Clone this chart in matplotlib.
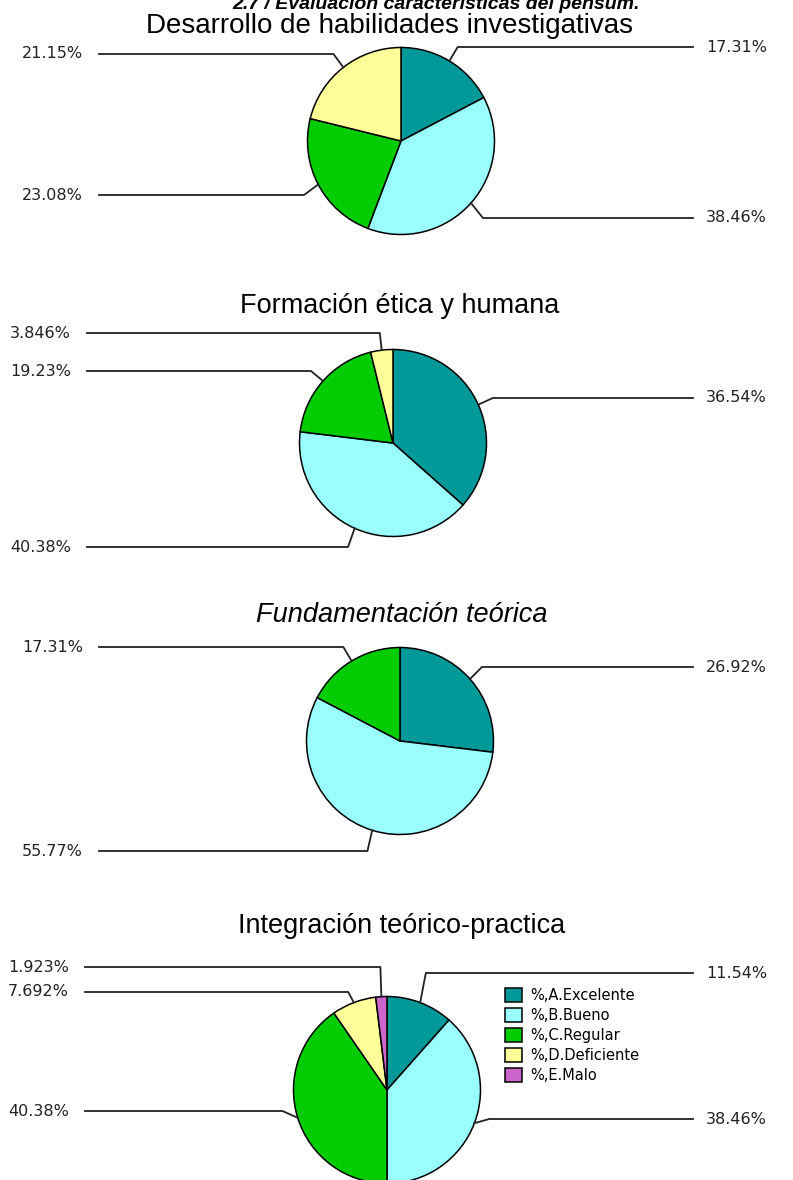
import matplotlib.pyplot as plt
import numpy as np

W, H = 793, 1180

categories = ['%,A.Excelente', '%,B.Bueno', '%,C.Regular', '%,D.Deficiente', '%,E.Malo']
colors = ['#009999', '#99FFFF', '#00CC00', '#FFFF99', '#CC66CC']

main_title = '2.7 / Evaluación características del pensum.'
titles = ['Desarrollo de habilidades investigativas',
          'Formación ética y humana',
          'Fundamentación teórica',
          'Integración teórico-practica']

desarrollo = [17.31, 38.46, 23.08, 21.15, 0]
etica = [36.54, 40.38, 19.23, 3.846, 0]
fundamentacion = [26.92, 55.77, 17.31, 0, 0]
integracion = [11.54, 38.46, 40.38, 7.692, 1.923]
series = [desarrollo, etica, fundamentacion, integracion]

# layout, in pixels (y grows downwards)
centers = [(401, 141), (393, 443), (400, 741), (387, 1090)]
radius = 93.5
title_x = [390, 400, 402, 402]
title_y = [33, 313, 622, 933]
title_style = ['normal', 'normal', 'italic', 'normal']
label_y = [
    [47, 218, 195, 54, None],
    [398, 547, 371, 333, None],
    [667, 851, 647, None, None],
    [973, 1119, 1111, 992, 967],
]
left_end = [83, 71, 83, 69]
right_end = 693
stub = 16

fig = plt.figure(figsize=(W / 100, H / 100), dpi=100)
ax = fig.add_axes([0, 0, 1, 1])

legend_wedges = None
for k, vals in enumerate(series):
    cx, cy = centers[k]
    idx = [i for i, v in enumerate(vals) if v > 0]
    # inverted y axis: start at -90 and go "counterclock" = clockwise on screen
    wedges, _ = ax.pie([vals[i] for i in idx], colors=[colors[i] for i in idx],
                       center=(cx, cy), radius=radius, startangle=-90, counterclock=True,
                       wedgeprops=dict(edgecolor='black', linewidth=1.1))
    if k == 3:
        legend_wedges = wedges

    total = sum(vals)
    cum = 0.0
    for i in idx:
        v = vals[i]
        th = np.deg2rad(360 * (cum + v / 2) / total)
        cum += v
        ex, ey = cx + radius * np.sin(th), cy - radius * np.cos(th)
        kx = ex + stub * np.sin(th)
        ky = label_y[k][i]
        lab = f'{v:.4g}%'
        if np.sin(th) > 0:
            ax.plot([ex, kx, right_end], [ey, ky, ky], color='#222222', lw=1.3)
            ax.text(right_end + 13, ky, lab, ha='left', va='center', fontsize=11.5,
                    color='#222222', family='DejaVu Sans')
        else:
            ax.plot([ex, kx, left_end[k] + 16], [ey, ky, ky], color='#222222', lw=1.3)
            ax.text(left_end[k], ky, lab, ha='right', va='center', fontsize=11.5,
                    color='#222222', family='DejaVu Sans')

    ax.text(title_x[k], title_y[k], titles[k], ha='center', va='baseline',
            fontsize=20 if k == 0 else 19.5, fontstyle=title_style[k],
            family='Liberation Sans', color='black')

ax.text(436, 9, main_title, ha='center', va='baseline', fontsize=14,
        fontweight='bold', fontstyle='italic', family='Liberation Sans')

ax.legend(legend_wedges, categories, loc='upper left', bbox_to_anchor=(505, 988),
          bbox_transform=ax.transData, frameon=False,
          handlelength=1.15, handleheight=1.1, handletextpad=0.6,
          labelspacing=0.35, borderpad=0, borderaxespad=0,
          prop={'family': 'DejaVu Sans', 'size': 10.5})

ax.set_xlim(0, W)
ax.set_ylim(H, 0)
ax.set_aspect('equal')
ax.axis('off')

fig.savefig('out.png', dpi=100, facecolor='white')
